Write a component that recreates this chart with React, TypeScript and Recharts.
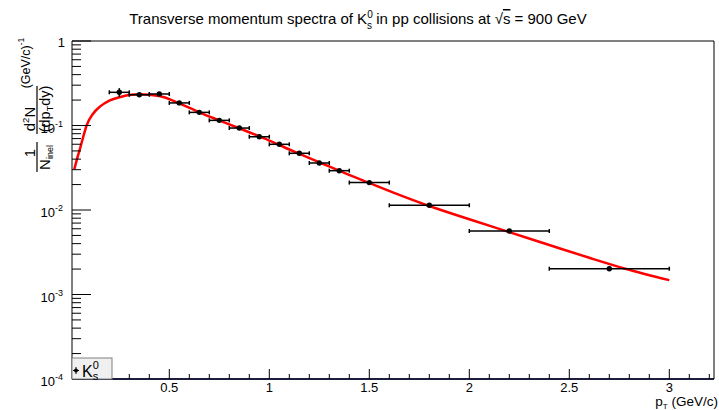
import React from 'react';
import { ComposedChart, Line, Scatter, XAxis, YAxis, ErrorBar } from 'recharts';

const FONT = '"Liberation Sans", Arial, Helvetica, sans-serif';

// Measured K0s spectrum points
const ptBinCenters = [0.25, 0.35, 0.45, 0.55, 0.65, 0.75, 0.85, 0.95, 1.05, 1.15, 1.25, 1.35, 1.5, 1.8, 2.2, 2.7];
const ptBinHalfWidths = [0.05, 0.05, 0.05, 0.05, 0.05, 0.05, 0.05, 0.05, 0.05, 0.05, 0.05, 0.05, 0.1, 0.2, 0.2, 0.3];
const k0sYields = [0.247, 0.231, 0.236, 0.185, 0.143, 0.115, 0.0933, 0.0736, 0.0599, 0.0469, 0.036, 0.0292, 0.0211, 0.01137, 0.00564, 0.00202];
const k0sYieldErrors = [0.03, 0.008, 0.008, 0.004, 0.003, 0, 0, 0, 0, 0, 0, 0, 0, 0, 0, 0.0001];

// Fit curve
const fitPt = [0.025, 0.037, 0.054, 0.07, 0.087, 0.12, 0.153, 0.2, 0.25, 0.3, 0.35, 0.45, 0.55, 0.65, 0.75, 0.85, 1.0, 1.125, 1.25, 1.375, 1.5, 1.65, 1.8, 2.0, 2.2, 2.4, 2.6, 2.78, 3.0];
const fitYield = [0.0303, 0.039, 0.0537, 0.0738, 0.101, 0.139, 0.167, 0.197, 0.216, 0.23, 0.234, 0.223, 0.183, 0.143, 0.115, 0.0927, 0.0664, 0.049, 0.0367, 0.0275, 0.0209, 0.0151, 0.01114, 0.00776, 0.00547, 0.00385, 0.00272, 0.00202, 0.00148];

// Ticks
const xTickValues = [0.1, 0.2, 0.3, 0.4, 0.5, 0.6, 0.7, 0.8, 0.9, 1, 1.1, 1.2, 1.3, 1.4, 1.5, 1.6, 1.7, 1.8, 1.9, 2, 2.1, 2.2, 2.3, 2.4, 2.5, 2.6, 2.7, 2.8, 2.9, 3, 3.1, 3.2];
const xMajorTicks = [0.5, 1, 1.5, 2, 2.5, 3];
const xMajorLabels = ['0.5', '1', '1.5', '2', '2.5', '3'];
const yDecades = [1e-4, 1e-3, 1e-2, 1e-1, 1];
const yDecadeExponents = [-4, -3, -2, -1, 0];
const yMinorMultipliers = [2, 3, 4, 5, 6, 7, 8, 9];

const points = ptBinCenters.map((x, i) => ({ x, y: k0sYields[i], ex: ptBinHalfWidths[i], ey: k0sYieldErrors[i] }));
const fitData = fitPt.map((x, i) => ({ x, y: fitYield[i] }));
const yTickValues: number[] = [];
yDecades.forEach((d, i) => {
  yTickValues.push(d);
  if (i < yDecades.length - 1) yMinorMultipliers.forEach((m) => yTickValues.push(Number((m * d).toPrecision(3))));
});

const XTick = (props: any) => {
  const { x, y, payload } = props;
  const v = payload.value;
  const mi = xMajorTicks.findIndex((t) => Math.abs(t - v) < 1e-6);
  const major = mi >= 0;
  return (
    <g>
      <line x1={x} x2={x} y1={y} y2={y - (major ? 10 : 5)} stroke="#000" strokeWidth={1} />
      {major && (
        <text x={x} y={y + 13} textAnchor="middle" fontSize={13} fontFamily={FONT} fill="#000">
          {xMajorLabels[mi]}
        </text>
      )}
    </g>
  );
};

const YTick = (props: any) => {
  const { x, y, payload } = props;
  const v = payload.value;
  const di = yDecades.findIndex((d) => Math.abs(d - v) / d < 1e-6);
  const major = di >= 0;
  const e = major ? yDecadeExponents[di] : 0;
  return (
    <g>
      <line x1={x} x2={x + (major ? 19 : 9)} y1={y} y2={y} stroke="#000" strokeWidth={1} />
      {major && e === 0 && (
        <text x={x - 7} y={y + 6} textAnchor="end" fontSize={13} fontFamily={FONT} fill="#000">1</text>
      )}
      {major && e !== 0 && (
        <text x={x - 9} y={y + 7} textAnchor="end" fontSize={13} fontFamily={FONT} fill="#000">
          10<tspan fontSize={9} dy={-6}>{String(e)}</tspan>
        </text>
      )}
    </g>
  );
};

const Marker = (p: any) => <circle cx={p.cx} cy={p.cy} r={2.7} fill="#000" />;

export default function App() {
  return (
    <div style={{ position: 'absolute', left: 0, top: 0, width: 719, height: 410, background: '#fff' }}>
      <ComposedChart width={719} height={410} margin={{ top: 41, right: 5, bottom: 0, left: 0 }}>
        <XAxis
          type="number"
          dataKey="x"
          domain={[0.0135, 3.2235]}
          allowDataOverflow
          ticks={xTickValues}
          interval={0}
          tick={XTick}
          tickLine={false}
          tickSize={0}
          tickMargin={0}
          height={31}
          axisLine={{ stroke: '#1c1c3c', strokeWidth: 2 }}
        />
        <YAxis
          type="number"
          scale="log"
          domain={[1e-4, 1]}
          allowDataOverflow
          ticks={yTickValues}
          interval={0}
          tick={YTick}
          tickLine={false}
          tickSize={0}
          tickMargin={0}
          width={72}
          axisLine={{ stroke: '#000', strokeWidth: 1 }}
        />
        <Line
          data={fitData}
          dataKey="y"
          type="monotone"
          stroke="#ff0000"
          strokeWidth={2.5}
          dot={false}
          activeDot={false}
          isAnimationActive={false}
        />
        <Scatter data={points} dataKey="y" fill="#000" shape={Marker} isAnimationActive={false}>
          <ErrorBar dataKey="ex" direction="x" width={2} stroke="#000" strokeWidth={1.5} />
          <ErrorBar dataKey="ey" direction="y" width={0} stroke="#000" strokeWidth={1.5} />
        </Scatter>
      </ComposedChart>
      <svg width={719} height={410} style={{ position: 'absolute', left: 0, top: 0, pointerEvents: 'none' }}>
        {/* frame */}
        <line x1={72} y1={41} x2={714} y2={41} stroke="#000" strokeWidth={1} />
        <line x1={714} y1={41} x2={714} y2={379} stroke="#000" strokeWidth={1} />
        {/* title */}
        <text x={358} y={24} textAnchor="middle" fontSize={15} fontFamily={FONT} fill="#000">
          Transverse momentum spectra of K<tspan fontSize={10} dy={-6}>0</tspan>
          <tspan fontSize={10} dx={-5.6} dy={11}>s</tspan>
          <tspan dy={-5}> in pp collisions at </tspan>
          <tspan>√</tspan>
          <tspan style={{ textDecoration: 'overline' }}>s</tspan>
          <tspan> = 900 GeV</tspan>
        </text>
        {/* y-axis title */}
        <g transform="translate(0,200) rotate(-90)" fontFamily={FONT} fill="#000">
          <text x={47} y={34.5} textAnchor="middle" fontSize={15}>1</text>
          <line x1={28} x2={58} y1={37} y2={37} stroke="#000" strokeWidth={1.2} />
          <text x={42.5} y={50} textAnchor="middle" fontSize={15}>
            N<tspan fontSize={9} dy={3}>inel</tspan>
          </text>
          <text x={81} y={34.5} textAnchor="middle" fontSize={15}>
            d<tspan fontSize={9.5} dy={-6}>2</tspan>
            <tspan dy={6}>N</tspan>
          </text>
          <line x1={66} x2={114} y1={37} y2={37} stroke="#000" strokeWidth={1.2} />
          <text x={91} y={50} textAnchor="middle" fontSize={14.5}>
            (dp<tspan fontSize={9} dy={3}>T</tspan>
            <tspan dy={-3}>dy)</tspan>
          </text>
          <text x={137} y={30} textAnchor="middle" fontSize={12.5}>
            (GeV/c)<tspan fontSize={8.5} dy={-6}>-1</tspan>
          </text>
        </g>
        {/* x-axis title */}
        <text x={718} y={406} textAnchor="end" fontSize={13.5} fontFamily={FONT} fill="#000">
          p<tspan fontSize={8} dy={3}>T</tspan>
          <tspan dy={-3}> (GeV/c)</tspan>
        </text>
        {/* legend */}
        <rect x={72} y={358} width={40} height={21} fill="#f0f0f0" stroke="#808080" strokeWidth={1} />
        <line x1={73} x2={79} y1={370.5} y2={370.5} stroke="#000" strokeWidth={1} />
        <line x1={76} x2={76} y1={367} y2={374} stroke="#000" strokeWidth={1} />
        <circle cx={76} cy={370.5} r={2} fill="#000" />
        <text x={82} y={377} fontSize={16} fontFamily={FONT} fill="#000">
          K<tspan fontSize={11} dy={-8}>0</tspan>
          <tspan fontSize={11} dx={-6.1} dy={11}>s</tspan>
        </text>
      </svg>
    </div>
  );
}
